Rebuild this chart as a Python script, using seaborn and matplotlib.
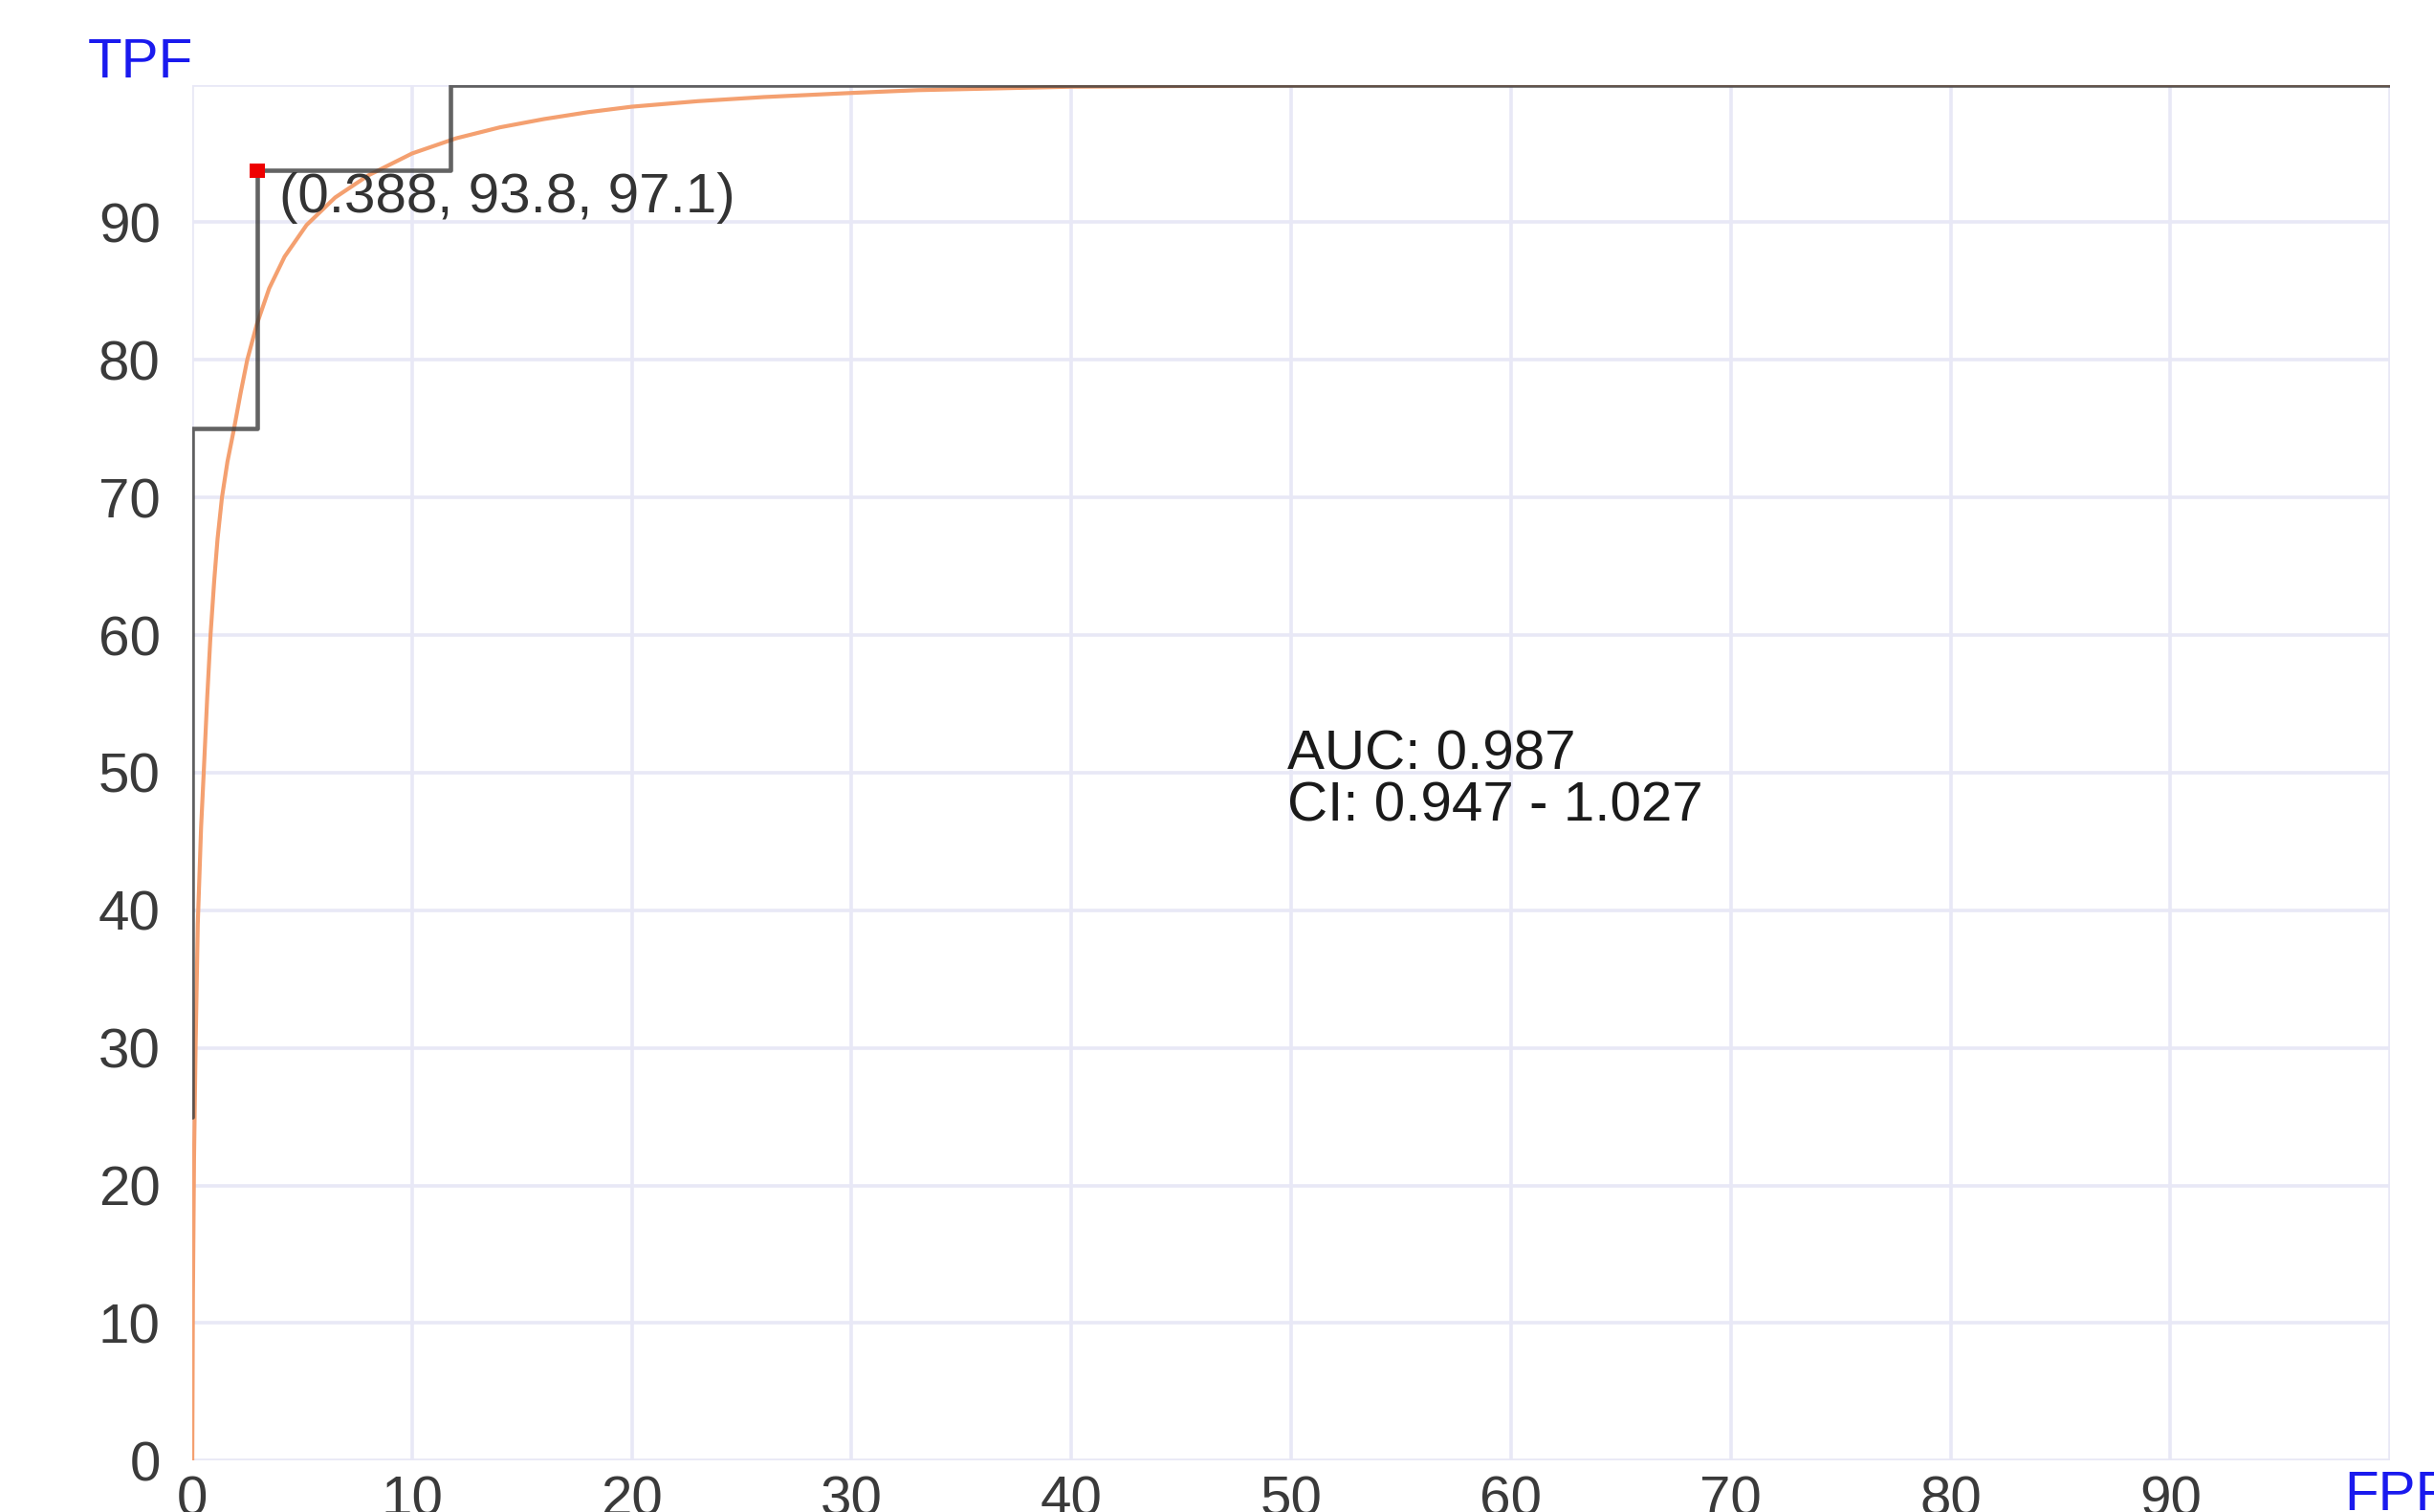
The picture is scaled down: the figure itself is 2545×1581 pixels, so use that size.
import matplotlib
matplotlib.use("Agg")
import matplotlib.pyplot as plt
import seaborn as sns
import pandas as pd

# empirical ROC (step) points, FPF / TPF in %
emp_fpf = [0, 0, 2.94, 2.94, 11.76, 11.76, 100]
emp_tpf = [25, 75, 75, 93.75, 93.75, 100, 100]

# fitted (smooth) ROC
fit_fpf = [0, 0.03, 0.08, 0.15, 0.25, 0.4, 0.52, 0.68, 0.83, 1.0, 1.15, 1.35, 1.6,
           1.9, 2.2, 2.5, 2.94, 3.5, 4.2, 5.2, 6.5, 8.0, 10, 12, 14, 16, 18, 20,
           23, 26, 30, 33, 40, 50, 60, 100]
fit_tpf = [0, 12, 22, 30, 39, 46, 50, 55.5, 60, 64, 67, 70, 72.6,
           75, 77.6, 80, 82.6, 85.2, 87.5, 89.8, 91.8, 93.4, 95.0, 96.1, 96.9, 97.5, 98.0, 98.4,
           98.8, 99.1, 99.4, 99.6, 99.85, 99.95, 100, 100]

# optimal cut-off point
cut_fpf = [2.94]
cut_tpf = [93.75]
cut_label = "(0.388, 93.8, 97.1)"

auc_text = "AUC: 0.987\nCI: 0.947 - 1.027"

ticks = list(range(0, 101, 10))

sns.set_style("whitegrid")
plt.rcParams['font.family'] = ['Liberation Sans', 'DejaVu Sans']

fig = plt.figure(figsize=(25.45, 15.81), dpi=100)
ax = fig.add_axes([0.079, 0.034, 0.903, 0.910])

fit_df = pd.DataFrame({"fpf": fit_fpf, "tpf": fit_tpf})
emp_df = pd.DataFrame({"fpf": emp_fpf, "tpf": emp_tpf})

sns.lineplot(data=fit_df, x="fpf", y="tpf", sort=False, estimator=None,
             color="#f4a070", linewidth=3.0, ax=ax)
sns.lineplot(data=emp_df, x="fpf", y="tpf", sort=False, estimator=None,
             color="#3c3c3c", linewidth=3.3, alpha=0.8, ax=ax)
sns.scatterplot(x=cut_fpf, y=cut_tpf, marker="s", color="#ee0000", s=130,
                edgecolor="none", zorder=5, ax=ax)

ax.text(cut_fpf[0] + 1.0, cut_tpf[0] - 2.0, cut_label, fontsize=42,
        color="#333333", va="center", ha="left")
ax.text(49.8, 49.4, auc_text, fontsize=42, color="#1a1a1a",
        va="center", ha="left", linespacing=1.0)

ax.set_xlim(0, 100)
ax.set_ylim(0, 100)
ax.set_xticks(ticks)
ax.set_yticks(ticks)
ax.set_xticklabels([str(t) for t in ticks[:-1]] + [""])
ax.set_yticklabels([str(t) for t in ticks[:-1]] + [""])
ax.set_xlabel("")
ax.set_ylabel("")
ax.tick_params(axis="both", length=0, labelsize=42, labelcolor="#3a3a3a")
ax.tick_params(axis="x", pad=11)
ax.tick_params(axis="y", pad=24)
ax.grid(True, color="#e8e8f6", linewidth=2.6)
for s in ax.spines.values():
    s.set_visible(False)

fig.text(0.036, 0.958, "TPF", fontsize=42, color="#1a1aee", va="center", ha="left")
fig.text(0.963, 0.011, "FPF", fontsize=42, color="#1a1aee", va="center", ha="left")

fig.savefig("out.png", dpi=100)
